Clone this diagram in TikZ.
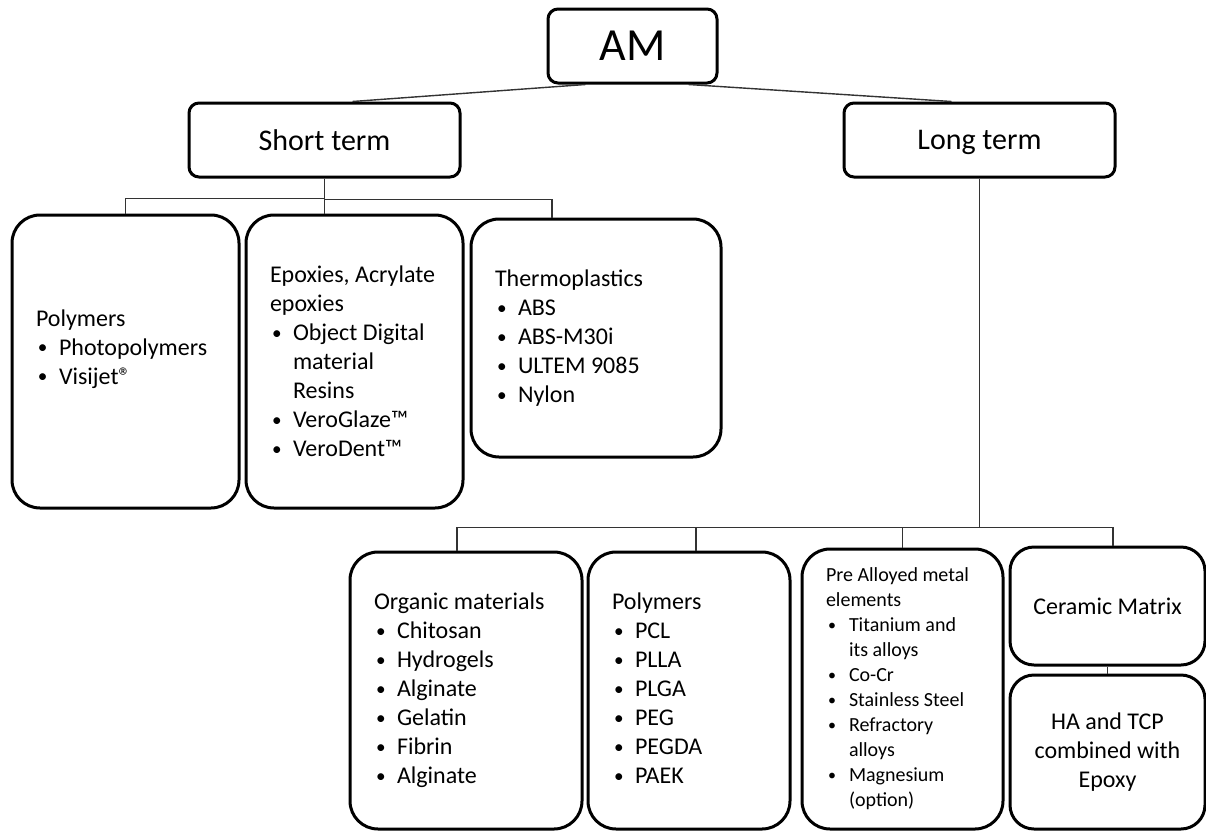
\documentclass[tikz,border=0pt]{standalone}
\usepackage{fontspec}
\setmainfont{Carlito}
\newcommand{\bul}[1]{\makebox[11.5pt][l]{\hspace{1pt}\raisebox{.12ex}{\scalebox{.8}{\textbullet}}}#1}
\newcommand{\cont}[1]{\hspace*{11.5pt}#1}

\begin{document}
\begin{tikzpicture}[x=.5pt, y=-.5pt,
    head/.style={
        draw,
        line width=1.5pt,
        rounded corners=5pt,
        inner sep=0pt,
        text depth=0pt,
        minimum height=37pt},
    list/.style={
        draw,
        line width=1.5pt,
        rounded corners=14pt,
        align=flush left,
        inner xsep=12pt,
        inner ysep=0pt,
        font=\fontsize{12}{14.5}\selectfont},
    mid/.style={
        list,
        align=flush center,
        inner xsep=8pt,
        rounded corners=12pt,
        text width=81.5pt,
        minimum width=97.5pt},
    link/.style={draw=black!80, line width=.7pt}]

    \useasboundingbox (0,0) rectangle (1206,831);

    \node[head, minimum width=84.5pt, font=\fontsize{23}{27}\selectfont] (AM) at (632.5,46) {AM};
    \node[head, minimum width=135.5pt, font=\fontsize{15}{18}\selectfont] (ST) at (324.5,140) {Short term};
    \node[head, minimum width=135.5pt, font=\fontsize{15}{18}\selectfont] (LT) at (979.5,140) {Long term};

    \node[list, text width=89.5pt, minimum height=146.5pt] (P1) at (125.5,361.5) {Polymers\\
        \bul{Photopolymers}\\
        \bul{Visijet®}\\
        \mbox{}};
    \node[list, text width=84.5pt, minimum height=146.5pt] (E) at (354.5,361.5) {Epoxies, Acrylate\\
        epoxies\\
        \bul{Object Digital}\\
        \cont{material}\\
        \cont{Resins}\\
        \bul{VeroGlaze™}\\
        \bul{VeroDent™}};
    \node[list, text width=101pt, minimum height=119pt] (T) at (596,338) {Thermoplastics\\
        \bul{ABS}\\
        \bul{ABS-M30i}\\
        \bul{ULTEM 9085}\\
        \bul{Nylon}};

    \node[list, text width=92pt, minimum height=138.5pt] (O) at (466,690.5) {Organic materials\\
        \bul{Chitosan}\\
        \bul{Hydrogels}\\
        \bul{Alginate}\\
        \bul{Gelatin}\\
        \bul{Fibrin}\\
        \bul{Alginate}};
    \node[list, text width=77pt, minimum height=138.5pt] (P2) at (689,690.5) {Polymers\\
        \bul{PCL}\\
        \bul{PLLA}\\
        \bul{PLGA}\\
        \bul{PEG}\\
        \bul{PEGDA}\\
        \bul{PAEK}\vphantom{g}};
    \node[list, text width=76.5pt, minimum height=140pt, font=\fontsize{10}{12.5}\selectfont] (M) at (902.5,689) {Pre Alloyed metal\\
        elements\\
        \bul{Titanium and}\\
        \cont{its alloys}\\
        \bul{Co-Cr}\\
        \bul{Stainless Steel}\\
        \bul{Refractory}\\
        \cont{alloys}\\
        \bul{Magnesium}\\
        \cont{(option)}};
    \node[mid, minimum height=59pt] (C) at (1107.5,606) {Ceramic Matrix};
    \node[mid, minimum height=77pt] (H) at (1107.5,752) {HA and TCP\\ combined with\\ Epoxy};

    \draw[link] ([xshift=19.5pt]AM.south west) -- ([xshift=14pt]ST.north);
    \draw[link] ([xshift=-15pt]AM.south east) -- ([xshift=-14pt]LT.north);

    \draw[link] (ST.south) -- ++(0,20) -| (P1.north);
    \draw[link] (ST.south) -- (ST.south |- E.north);
    \draw[link] (ST.south) ++(0,21) -| ([xshift=-22pt]T.north);

    \coordinate (bus) at ([yshift=-174.5pt]LT.south);
    \draw[link] (LT.south) -- (bus);
    \draw[link] (bus) -| ([xshift=-4.5pt]O.north);
    \draw[link] (bus) -| ([xshift=3.5pt]P2.north);
    \draw[link] (bus) -| (M.north);
    \draw[link] (bus) -| ([xshift=2.75pt]C.north);
    \draw[link] (C.south) -- (C.south |- H.north);
\end{tikzpicture}
\end{document}
